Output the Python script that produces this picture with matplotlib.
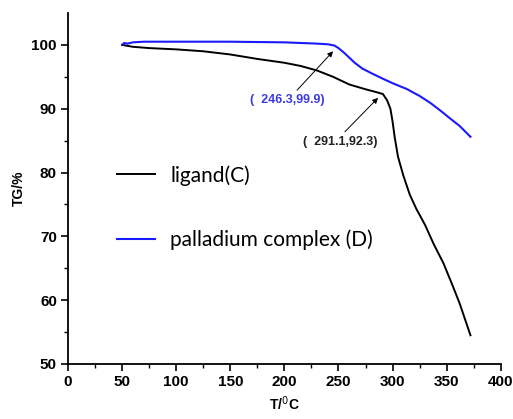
import matplotlib
matplotlib.use("Agg")
import matplotlib.pyplot as plt
from matplotlib.lines import Line2D

# Ligand (C) TG curve.
ligand_t = [50, 60, 75, 100, 125, 150, 175, 200, 215, 230, 245, 260, 276, 285,
            291.1, 295, 298, 300, 302, 305, 310, 316, 322, 330, 338, 347, 355,
            362, 368, 372]
ligand_tg = [100, 99.7, 99.5, 99.3, 99.0, 98.5, 97.8, 97.2, 96.7, 96.0, 95.0,
             93.8, 93.0, 92.6, 92.3, 91.3, 90.0, 88.0, 85.5, 82.5, 79.5, 76.5,
             74.3, 71.8, 68.8, 65.8, 62.5, 59.5, 56.5, 54.5]

# Palladium complex (D) TG curve.
complex_t = [50, 52, 55, 60, 70, 100, 150, 200, 230, 240, 246.3, 250, 255, 260,
             265, 272, 280, 291, 300, 313, 325, 335, 345, 353, 362, 372]
complex_tg = [100, 100.3, 100.2, 100.4, 100.5, 100.5, 100.5, 100.4, 100.2,
              100.1, 99.9, 99.5, 98.8, 98.0, 97.2, 96.3, 95.6, 94.7, 94.0, 93.1,
              92.0, 90.9, 89.6, 88.5, 87.3, 85.6]

x_ticks = [0, 50, 100, 150, 200, 250, 300, 350, 400]
y_ticks = [50, 60, 70, 80, 90, 100]

BLUE = "#1a1aff"
TEXT_BLUE = "#3b3be6"


def plot_tg():
    fig = plt.figure(figsize=(5.13, 4.19), dpi=100)
    ax = fig.add_axes([0.1326, 0.1313, 0.8435, 0.8377])

    ax.plot(ligand_t, ligand_tg, color="black", lw=1.4)
    ax.plot(complex_t, complex_tg, color=BLUE, lw=1.5)

    # Axes look.
    ax.set_xlim(0, 400)
    ax.set_ylim(50, 105)
    ax.spines["top"].set_visible(False)
    ax.spines["right"].set_visible(False)
    for s in ("left", "bottom"):
        ax.spines[s].set_linewidth(1.3)
    ax.set_xticks(x_ticks)
    ax.set_yticks(y_ticks)
    ax.set_xticks(range(25, 400, 50), minor=True)
    ax.set_yticks(range(55, 105, 10), minor=True)
    ax.tick_params(which="major", length=5, width=1.2, direction="out",
                   labelsize=11, pad=3)
    ax.tick_params(which="minor", length=3, width=1.0, direction="out")
    for lab in ax.get_xticklabels() + ax.get_yticklabels():
        lab.set_fontweight("bold")
        lab.set_family("Liberation Sans")

    ax.set_xlabel("T/$^0$C", fontsize=10, fontweight="bold",
                  family="Liberation Sans", labelpad=4)
    ax.set_ylabel("TG/%", fontsize=10, fontweight="bold",
                  family="Liberation Sans", labelpad=4)

    # Legend drawn inside the plot area.
    handles = [Line2D([], [], color="black", lw=1.4),
               Line2D([], [], color=BLUE, lw=1.5)]
    ax.legend(handles, ["ligand(C)", "palladium complex (D)"],
              loc="upper left", bbox_to_anchor=(0.07, 0.62), frameon=False,
              prop={"family": "Lato", "size": 15}, handlelength=1.8,
              handletextpad=0.75, labelspacing=2.1)

    # Onset annotations.
    arrow = dict(arrowstyle="-|>", color="black", lw=0.7,
                 mutation_scale=8, shrinkA=0, shrinkB=0)
    ax.annotate("", xy=(245, 99.0), xytext=(211.7, 92.9), arrowprops=arrow)
    ax.text(203, 91.4, "(  246.3,99.9)", color=TEXT_BLUE, fontsize=9,
            fontweight="bold", family="Liberation Sans",
            ha="center", va="center")
    ax.annotate("", xy=(286.6, 91.7), xytext=(256, 86.4), arrowprops=arrow)
    ax.text(251.4, 84.8, "(  291.1,92.3)", color="#222222", fontsize=9,
            fontweight="bold", family="Liberation Sans",
            ha="center", va="center")

    plt.savefig("out.png", dpi=100)
    plt.close()


if __name__ == "__main__":
    plot_tg()
